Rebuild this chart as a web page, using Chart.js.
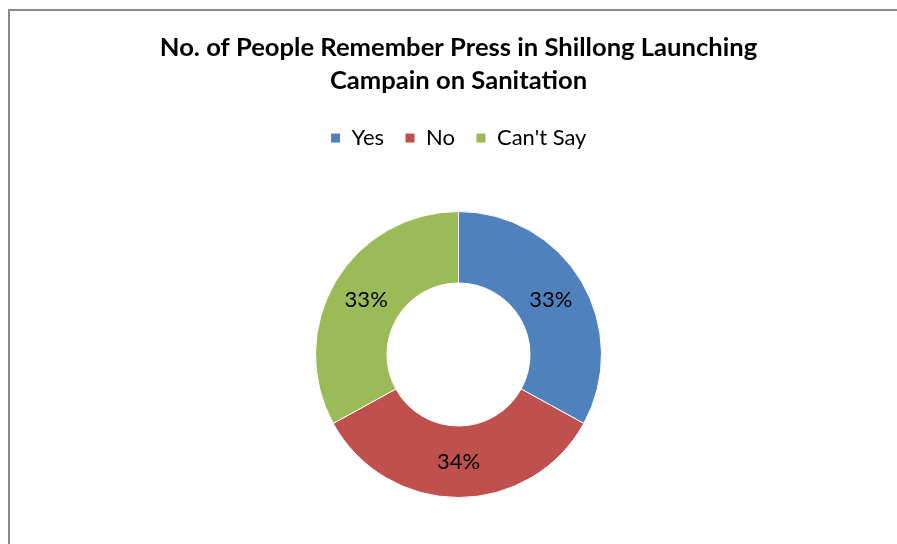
<!DOCTYPE html>
<html>
<head>
<meta charset="utf-8">
<script src="https://cdn.jsdelivr.net/npm/chart.js@4.4.1/dist/chart.umd.min.js"></script>
<style>
  html, body { margin: 0; padding: 0; background: #fff; overflow: hidden; }
  body { width: 897px; height: 544px; position: relative; }
  .frame {
    position: absolute; left: 8px; top: 9px;
    width: 900px; height: 580px;
    border-left: 2px solid #898989; border-top: 2px solid #898989;
  }
  .frame canvas { position: absolute; left: 0; top: 0; }
</style>
</head>
<body>
<div class="frame">
  <canvas id="pieChart" width="897" height="560"></canvas>
</div>
<script>
const titleLines = ['No. of People Remember Press in Shillong Launching', 'Campain on Sanitation'];
const answers = ['Yes', 'No', "Can't Say"];
const shares = [33, 34, 33];
const sliceColors = ['#4F81BD', '#C0504D', '#9BBB59'];

const fontFamily = "Lato, 'Open Sans', sans-serif";

// percentage written in the middle of each ring segment
const sliceLabels = {
  id: 'sliceLabels',
  afterDatasetsDraw(chart) {
    const ctx = chart.ctx;
    const meta = chart.getDatasetMeta(0);
    ctx.save();
    ctx.font = `22px ${fontFamily}`;
    ctx.fillStyle = '#000';
    ctx.textAlign = 'center';
    ctx.textBaseline = 'middle';
    meta.data.forEach((arc, i) => {
      const pos = arc.tooltipPosition();
      ctx.fillText(shares[i] + '%', pos.x, pos.y);
    });
    ctx.restore();
  }
};

const ctx = document.getElementById('pieChart');
const pieChart = new Chart(ctx, {
  type: 'doughnut',
  data: {
    labels: answers,
    datasets: [{
      data: shares,
      backgroundColor: sliceColors,
      borderColor: '#ffffff',
      borderWidth: 1
    }]
  },
  options: {
    responsive: false,
    animation: false,
    cutout: '50%',
    radius: 143,
    layout: { padding: { top: 0, bottom: 21, left: 0, right: 0 } },
    plugins: {
      tooltip: { enabled: false },
      title: {
        display: true,
        text: titleLines,
        color: '#000',
        font: { family: fontFamily, size: 25.6, weight: 'bold', lineHeight: 1.29 },
        padding: { top: 20, bottom: 9 }
      },
      legend: {
        position: 'top',
        labels: {
          color: '#000',
          font: { family: fontFamily, size: 22 },
          boxWidth: 10,
          boxHeight: 10,
          padding: 21
        }
      }
    }
  },
  plugins: [sliceLabels]
});
</script>
</body>
</html>
